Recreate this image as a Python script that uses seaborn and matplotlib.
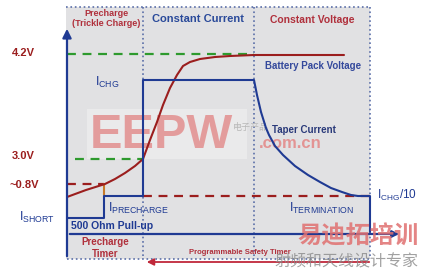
import matplotlib
matplotlib.use("Agg")
import matplotlib.pyplot as plt
import seaborn as sns
from matplotlib.patches import Rectangle

sns.set_theme(style="white")
plt.rcParams['font.family'] = ['Liberation Sans', 'Noto Sans CJK SC', 'DejaVu Sans']
plt.rcParams['mathtext.fontset'] = 'custom'
plt.rcParams['mathtext.rm'] = 'Liberation Sans'
plt.rcParams['mathtext.bf'] = 'Liberation Sans:bold'

# ---- diagram data (diagram units, y grows downward) ----
phase_bounds = [67, 143, 254, 370]          # precharge | constant current | constant voltage
panel_top, panel_bottom = 7, 259
level_names = ["4.2V", "3.0V", "~0.8V"]
level_y = [54, 159, 184]
i_chg_y, i_pre_y, i_short_y, i_term_y, pullup_y = 80, 196, 218, 196, 234

volt_x = [67, 86, 105, 115, 125, 135, 143, 150, 157, 163, 170, 177, 183, 190, 200, 215, 230, 254]
volt_y = [197, 190, 184, 179, 173, 166, 159, 140, 122, 105, 88, 75, 66, 62, 59, 57, 56, 55]
cv_x = [254, 344]
cv_y = [55, 55]

cur_x = [67, 104, 104, 143, 143, 254, 254, 257, 261, 266, 269, 275, 283, 295, 308, 320, 331, 342, 351, 358, 370, 370]
cur_y = [218, 218, 196, 196, 80, 80, 80, 95, 112, 128, 135, 146, 155, 166, 175, 182, 188, 192, 195, 196, 196, 232]

fig = plt.figure(figsize=(4.23, 2.71), dpi=100)
ax = fig.add_axes([0, 0, 1, 1])
ax.set_xlim(0, 423)
ax.set_ylim(271, 0)
ax.axis('off')

BLUE = '#1f3a93'
DOT = '#5a6ea8'
RED = '#9b1e1e'
PINK = '#b0303c'
GREEN = '#2e9a2e'

# background panel
ax.add_patch(Rectangle((phase_bounds[0] - 1, panel_top), phase_bounds[3] - phase_bounds[0] + 1,
                       panel_bottom - panel_top, facecolor='#e1e1e3', edgecolor='none', zorder=0))
# dotted frame
ax.plot([phase_bounds[0] - 1, phase_bounds[3]], [panel_top, panel_top], ls=':', color=DOT, lw=1.2, zorder=1)
ax.plot([phase_bounds[0], phase_bounds[3]], [panel_bottom, panel_bottom], ls=':', color=DOT, lw=1.2, zorder=1)
for xb in phase_bounds[1:]:
    ax.plot([xb, xb], [panel_top, panel_bottom], ls=':', color=DOT, lw=1.2, zorder=1)

# watermark (EEPW)
ax.add_patch(Rectangle((87, 109), 160, 50, facecolor='white', alpha=0.3, edgecolor='none', zorder=1))
ax.text(161, 135, "EEPW", fontsize=35, fontweight='bold', color='#e39494', alpha=0.9,
        ha='center', va='center', zorder=1.5)
ax.text(251, 127, "电子产品", fontsize=6.5, color='#b8b8b8', ha='center', va='center', zorder=1.5)
ax.text(290, 144, ".com.cn", fontsize=12, fontweight='bold', color='#e39494', ha='center', va='center', zorder=1.5)

# level lines
ax.plot([67, 254], [level_y[0]] * 2, ls=(0, (4, 3)), color=GREEN, lw=1.6, zorder=2)
ax.plot([75, 143], [level_y[1]] * 2, ls=(0, (4, 3)), color=GREEN, lw=1.6, zorder=2)
ax.plot([67, 104], [level_y[2]] * 2, ls=(0, (4, 3)), color=RED, lw=1.6, zorder=2)
ax.plot([143, 370], [i_term_y] * 2, ls=(0, (4, 3)), color=RED, lw=1.6, zorder=2)
ax.plot([104, 104], [184, 195], color='#c87a2a', lw=1.5, zorder=2)

# voltage curve
sns.lineplot(x=volt_x, y=volt_y, sort=False, estimator=None, errorbar=None, color=RED, lw=1.5, ax=ax, zorder=3)
sns.lineplot(x=cv_x, y=cv_y, sort=False, estimator=None, errorbar=None, color=RED, lw=1.5, ax=ax, zorder=3)
# current curve
sns.lineplot(x=cur_x, y=cur_y, sort=False, estimator=None, errorbar=None, color=BLUE, lw=1.5, ax=ax, zorder=3)

# axes arrows
ax.annotate('', xy=(67, 26), xytext=(67, 259),
            arrowprops=dict(arrowstyle='-|>', color=BLUE, lw=1.6, mutation_scale=13), zorder=4)
ax.annotate('', xy=(402, pullup_y), xytext=(67, pullup_y),
            arrowprops=dict(arrowstyle='-|>', color=BLUE, lw=1.6, mutation_scale=10), zorder=4)
ax.annotate('', xy=(144, 262), xytext=(372, 262),
            arrowprops=dict(arrowstyle='-|>', color='#c0283a', lw=1.3, mutation_scale=10), zorder=4)

# labels
ax.text(12, 53, level_names[0], color=RED, fontsize=8, fontweight='bold', va='center', ha='left')
ax.text(12, 156, level_names[1], color=RED, fontsize=8, fontweight='bold', va='center', ha='left')
ax.text(10, 185, level_names[2], color=RED, fontsize=8, fontweight='bold', va='center', ha='left')
ax.text(19, 217, r"$\mathregular{I_{SHORT}}$", color=BLUE, fontsize=9, va='center', ha='left')
ax.text(95, 82, r"$\mathregular{I_{CHG}}$", color=BLUE, fontsize=9, va='center', ha='left')
ax.text(108, 208, r"$\mathregular{I_{PRECHARGE}}$", color=BLUE, fontsize=9, va='center', ha='left')
ax.text(289, 208, r"$\mathregular{I_{TERMINATION}}$", color=BLUE, fontsize=9, va='center', ha='left')
ax.text(377, 195, r"$\mathregular{I_{CHG}/10}$", color=BLUE, fontsize=8.5, va='center', ha='left')

ax.text(106, 13, "Precharge", color=PINK, fontsize=6.5, fontweight='bold', ha='center', va='center')
ax.text(106, 24, "(Trickle Charge)", color=PINK, fontsize=6.5, fontweight='bold', ha='center', va='center')
ax.text(198, 19, "Constant Current", color='#2a4a9a', fontsize=8, fontweight='bold', ha='center', va='center')
ax.text(312, 20, "Constant Voltage", color=PINK, fontsize=7.5, fontweight='bold', ha='center', va='center')
ax.text(313, 66, "Battery Pack Voltage", color='#34499c', fontsize=7, fontweight='bold', ha='center', va='center')
ax.text(272, 130, "Taper Current", color='#2a3a7a', fontsize=7, fontweight='bold', ha='left', va='center')
ax.text(71, 226, "500 Ohm Pull-up", color=BLUE, fontsize=7.5, fontweight='bold', ha='left', va='center')
ax.text(105, 242, "Precharge", color=PINK, fontsize=7, fontweight='bold', ha='center', va='center')
ax.text(105, 254, "Timer", color=PINK, fontsize=7, fontweight='bold', ha='center', va='center')
ax.text(240, 253, "Programmable Safety Timer", color=PINK, fontsize=5.5, fontweight='bold', ha='center', va='center')

# bottom watermark
ax.text(358, 237, "易迪拓培训", fontsize=17.5, fontweight='bold', color='#e07070', alpha=0.85,
        ha='center', va='center', zorder=5)
ax.text(346, 262, "射频和天线设计专家", fontsize=11.5, color='#8a8a8a', alpha=0.8,
        ha='center', va='center', zorder=5)

fig.savefig("out.png", dpi=100)
